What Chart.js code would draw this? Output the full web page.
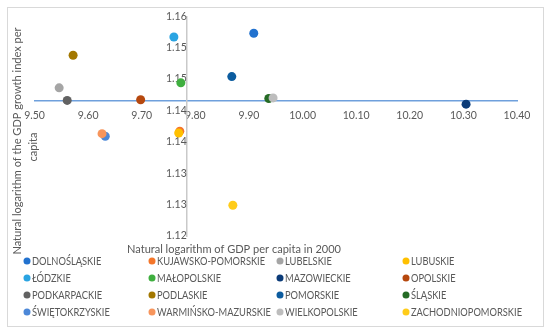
<!DOCTYPE html>
<html><head><meta charset="utf-8">
<script src="https://cdn.jsdelivr.net/npm/chart.js@4"></script>
<style>html,body{margin:0;padding:0;background:#fff;} #wrap{width:550px;height:333px;position:relative;}
#frame{position:absolute;left:7px;top:7px;width:535px;height:318px;border:1px solid #D9D9D9;pointer-events:none;}
canvas{position:absolute;left:0;top:0;}</style>
</head><body><div id="wrap"><div id="frame"></div><canvas id="c" width="550" height="333"></canvas></div>
<script>
const regions = ['DOLNOŚLĄSKIE','KUJAWSKO-POMORSKIE','LUBELSKIE','LUBUSKIE','ŁÓDZKIE','MAŁOPOLSKIE','MAZOWIECKIE','OPOLSKIE','PODKARPACKIE','PODLASKIE','POMORSKIE','ŚLĄSKIE','ŚWIĘTOKRZYSKIE','WARMIŃSKO-MAZURSKIE','WIELKOPOLSKIE','ZACHODNIOPOMORSKIE'];
const gdpPerCapita2000 = [9.909, 9.771, 9.546, 9.769, 9.760, 9.773, 10.305, 9.698, 9.561, 9.572, 9.868, 9.937, 9.632, 9.626, 9.945, 9.870];
const growthIndexLog = [1.1523, 1.1367, 1.1436, 1.1364, 1.1517, 1.1444, 1.1410, 1.1417, 1.1416, 1.1488, 1.1454, 1.1419, 1.1359, 1.1363, 1.1420, 1.1249];
const colors = ['#2272CF','#F4762A','#A5A5A5','#FFC000','#2AA4E2','#3FAF3F','#0B3B78','#B6480E','#626262','#A37800','#0C5C9F','#256B25','#4C88D8','#F7955C','#BDBDBD','#FFCC1A'];
const xTickLabels = ['9.50','9.60','9.70','9.80','9.90','10.00','10.10','10.20','10.30','10.40'];
const yTickLabels = ['1.12','1.13','1.13','1.14','1.14','1.15','1.15','1.16'];
const xTitle = 'Natural logarithm of GDP per capita in 2000';
const yTitleLines = ['Natural logarithm of the GDP growth index per','capita'];

const FONT = 'Lato, "Open Sans", sans-serif';
const TXT = '#595959';

const datasets = regions.map((r, i) => ({
  label: r,
  data: [{x: gdpPerCapita2000[i], y: growthIndexLog[i]}],
  backgroundColor: colors[i],
  borderColor: colors[i],
  pointRadius: 4.5,
  pointHoverRadius: 4.5,
  borderWidth: 0,
  order: regions.length - i
}));

const decor = {
  id: 'decor',
  afterDraw(chart) {
    const ctx = chart.ctx;
    ctx.save();
    ctx.fillStyle = TXT;
    ctx.font = '12px ' + FONT;
    ctx.textAlign = 'center';
    ctx.textBaseline = 'middle';
    const xw = ctx.measureText(xTitle).width;
    const k = 214 / xw;
    ctx.fillText(xTitle, 234, 249, xw * k);
    ctx.save();
    ctx.translate(17, 141);
    ctx.rotate(-Math.PI / 2);
    ctx.fillText(yTitleLines[0], 0, 0, ctx.measureText(yTitleLines[0]).width * k);
    ctx.fillText(yTitleLines[1], -6, 16, ctx.measureText(yTitleLines[1]).width * k);
    ctx.restore();
    const colX = [27, 152, 280, 406];
    const rowY = [261, 278, 295, 312];
    ctx.font = '11px ' + FONT;
    ctx.textAlign = 'left';
    const kl = 114 / ctx.measureText('WARMIŃSKO-MAZURSKIE').width;
    chart.data.datasets.forEach((ds, i) => {
      const cx = colX[i % 4], cy = rowY[Math.floor(i / 4)];
      ctx.beginPath();
      ctx.fillStyle = ds.backgroundColor;
      ctx.arc(cx, cy, 3.5, 0, Math.PI * 2);
      ctx.fill();
      ctx.fillStyle = TXT;
      ctx.fillText(ds.label, cx + 5, cy + 0.5, ctx.measureText(ds.label).width * kl);
    });
    ctx.restore();
  }
};

new Chart(document.getElementById('c'), {
  type: 'scatter',
  data: { datasets },
  options: {
    responsive: false,
    animation: false,
    layout: { padding: { left: 34.5, right: 33, top: 15, bottom: 97 } },
    plugins: { legend: { display: false }, tooltip: { enabled: false } },
    scales: {
      x: {
        type: 'linear', min: 9.5, max: 10.4,
        position: { y: 1.14154 },
        grid: { display: false, drawTicks: false },
        border: { display: true, color: '#6FA0DC', width: 1.5 },
        ticks: {
          stepSize: 0.1, padding: 9, color: TXT, autoSkip: false, maxRotation: 0,
          font: { family: FONT, size: 10.5 },
          callback: (v) => xTickLabels[Math.round((v - 9.5) / 0.1)]
        }
      },
      y: {
        type: 'linear', min: 1.12, max: 1.155,
        position: { x: 9.784 },
        grid: { display: false, drawTicks: false },
        border: { display: true, color: '#C9C9C9', width: 1.5 },
        ticks: {
          stepSize: 0.005, padding: 10, color: TXT, autoSkip: false,
          font: { family: FONT, size: 10.5 },
          callback: (v) => yTickLabels[Math.round((v - 1.12) / 0.005)]
        }
      }
    }
  },
  plugins: [decor]
});
</script></body></html>
